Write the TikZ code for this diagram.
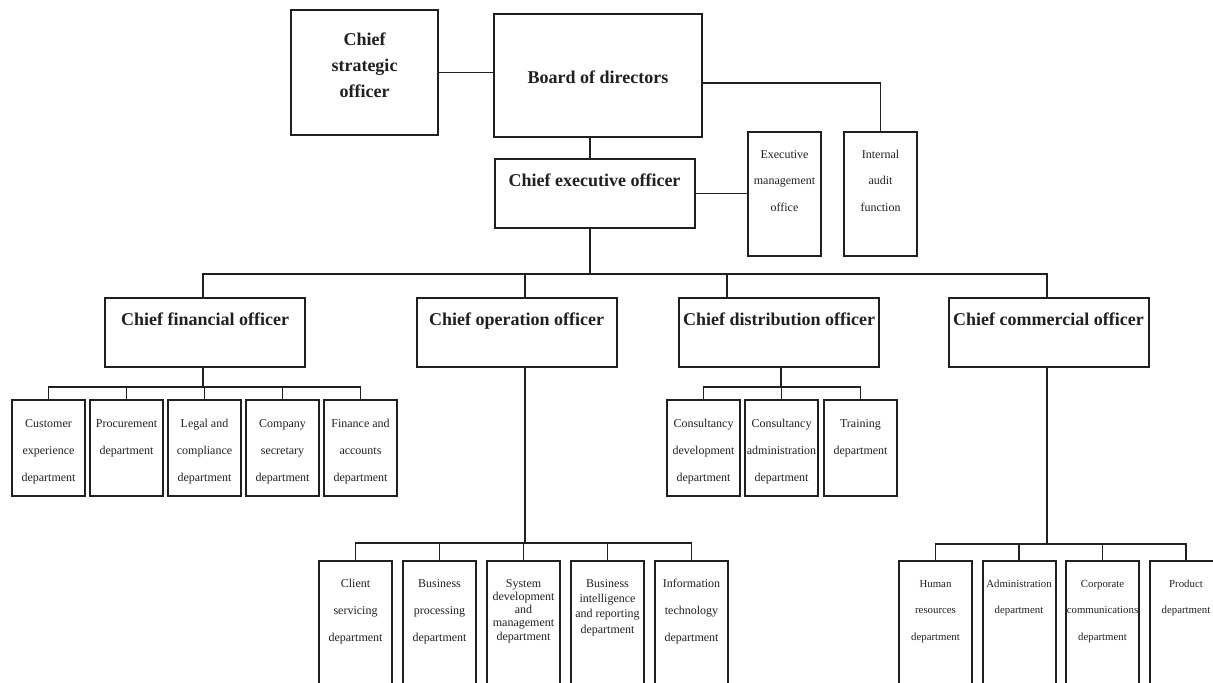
\documentclass[tikz,border=0pt]{standalone}
\usepackage{fontspec}
\setmainfont{Liberation Serif}
\usetikzlibrary{positioning}
\definecolor{ink}{HTML}{231F20}

\begin{document}
\begin{tikzpicture}[
    x=0.5pt, y=-0.5pt,
    box/.style={draw=ink, text=ink, line width=1pt, inner sep=0pt, align=flush center},
    head/.style={box, font={\bfseries\fontsize{9}{13}\selectfont}},
    officer/.style={head, text width=100pt, text height=13.5pt, text depth=21pt},
    unit/.style={box, text width=36.5pt, font={\fontsize{6}{13.25}\selectfont}, text height=13pt, text depth=49pt},
    dept/.style={box, text width=36.5pt, font={\fontsize{6}{13.5}\selectfont}, text height=13.5pt, text depth=34.5pt},
    team/.style={dept, text height=13pt, text depth=60pt},
    link/.style={draw=ink, line width=0.8pt}
  ]
    \useasboundingbox (0,0) rectangle (1213,682);
    \clip (0,0) rectangle (1213,682);

    \node[head, text width=73.5pt, text height=17.5pt, text depth=45pt, anchor=north] (cso) at (364.5,9) {Chief\\strategic\\officer};
    \node[head, text width=104pt, text height=34.5pt, text depth=27pt, anchor=north] (board) at (598,13) {Board of directors};
    \node[officer, anchor=north] (ceo) at (594.5,158) {Chief executive officer};
    \node[unit, anchor=north] (emo) at (784.5,131) {Executive\\management\\office};
    \node[unit, anchor=north] (audit) at (880.5,131) {Internal\\audit\\function};

    \node[officer, anchor=north] (cfo) at (205,297) {Chief financial officer};
    \node[officer, anchor=north] (coo) at (516.5,297) {Chief operation officer};
    \node[officer, anchor=north] (cdo) at (779,297) {Chief distribution officer};
    \node[officer, anchor=north] (cco) at (1048.5,297) {Chief commercial officer};

    \node[dept, anchor=north] (fin1) at (48.5,399) {Customer\\experience\\department};
    \node[dept, right=1.5pt of fin1] (fin2) {Procurement\\department};
    \node[dept, right=1.5pt of fin2] (fin3) {Legal and\\compliance\\department};
    \node[dept, right=1.5pt of fin3] (fin4) {Company\\secretary\\department};
    \node[dept, right=1.5pt of fin4] (fin5) {Finance and\\accounts\\department};

    \node[dept, anchor=north] (dist1) at (703.5,399) {Consultancy\\development\\department};
    \node[dept, right=1.5pt of dist1] (dist2) {Consultancy\\administration\\department};
    \node[dept, right=2pt of dist2] (dist3) {Training\\department};

    \node[team, anchor=north] (ops1) at (355.5,560) {Client\\servicing\\department};
    \node[team, right=4.5pt of ops1] (ops2) {Business\\processing\\department};
    \node[team, right=4.5pt of ops2, font={\fontsize{6}{6.65}\selectfont}] (ops3) {System\\development\\and\\management\\department};
    \node[team, right=4.5pt of ops3, font={\fontsize{6}{7.7}\selectfont}] (ops4) {Business\\intelligence\\and reporting\\department};
    \node[team, right=4.5pt of ops4] (ops5) {Information\\technology\\department};

    \node[team, font={\fontsize{5.4}{13.3}\selectfont}, anchor=north] (com1) at (935.5,560) {Human\\resources\\department};
    \node[team, font={\fontsize{5.4}{13.3}\selectfont}, right=4.25pt of com1] (com2) {Administration\\department};
    \node[team, font={\fontsize{5.4}{13.3}\selectfont}, right=4.25pt of com2] (com3) {Corporate\\communications\\department};
    \node[team, font={\fontsize{5.4}{13.3}\selectfont}, right=4.25pt of com3] (com4) {Product\\department};

    \coordinate (trunk) at (590,274);
    \coordinate (cfoBus) at (203,387);
    \coordinate (cooBus) at (525,543);
    \coordinate (cdoBus) at (781,387);
    \coordinate (ccoBus) at (1047,544);

    \draw[link] (cso.east) -- (cso.east -| board.west);
    \draw[link] ([yshift=-3.75pt]board.east) -| (audit.north);
    \draw[link] (board.south -| trunk) -- (ceo.north -| trunk);
    \draw[link] (ceo.east) -- (ceo.east -| emo.west);
    \draw[link] (ceo.south -| trunk) -- (trunk);
    \draw[link] (cfo.north -| cfoBus) |- (trunk) -| (cco.north -| ccoBus);
    \draw[link] (coo.north -| cooBus) -- (cooBus |- trunk);
    \draw[link] ([xshift=-26pt]cdo.north) -- ([xshift=-26pt]cdo.north |- trunk);

    \draw[link] (cfo.south -| cfoBus) -- (cfoBus);
    \draw[link] (fin1.north) |- (cfoBus) -| (fin5.north);
    \draw[link] (fin2.north) -- (fin2.north |- cfoBus);
    \draw[link] (fin3.north) -- (fin3.north |- cfoBus);
    \draw[link] (fin4.north) -- (fin4.north |- cfoBus);

    \draw[link] (coo.south -| cooBus) -- (cooBus);
    \draw[link] (ops1.north) |- (cooBus) -| (ops5.north);
    \draw[link] (ops2.north) -- (ops2.north |- cooBus);
    \draw[link] (ops3.north) -- (ops3.north |- cooBus);
    \draw[link] (ops4.north) -- (ops4.north |- cooBus);

    \draw[link] (cdo.south -| cdoBus) -- (cdoBus);
    \draw[link] (dist1.north) |- (cdoBus) -| (dist3.north);
    \draw[link] (dist2.north) -- (dist2.north |- cdoBus);

    \draw[link] (cco.south -| ccoBus) -- (ccoBus);
    \draw[link] (com1.north) |- (ccoBus) -| (com4.north);
    \draw[link] (com2.north) -- (com2.north |- ccoBus);
    \draw[link] (com3.north) -- (com3.north |- ccoBus);
  \end{tikzpicture}
\end{document}
